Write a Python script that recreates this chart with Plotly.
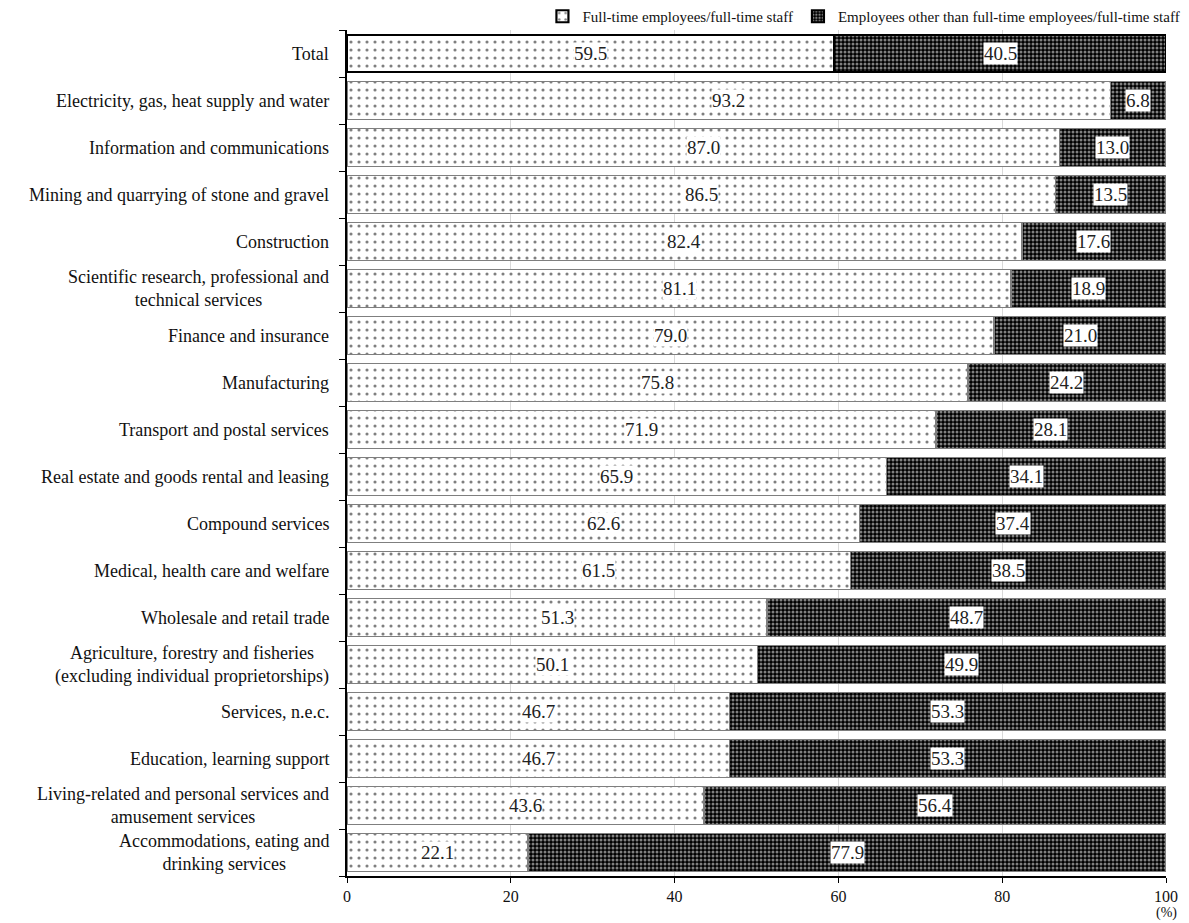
import plotly.graph_objects as go

categories = [
    "Total",
    "Electricity, gas, heat supply and water",
    "Information and communications",
    "Mining and quarrying of stone and gravel",
    "Construction",
    "Scientific research, professional and<br>technical services",
    "Finance and insurance",
    "Manufacturing",
    "Transport and postal services",
    "Real estate and goods rental and leasing",
    "Compound services",
    "Medical, health care and welfare",
    "Wholesale and retail trade",
    "Agriculture, forestry and fisheries<br>(excluding individual proprietorships)",
    "Services, n.e.c.",
    "Education, learning support",
    "Living-related and personal services and<br>amusement services",
    "Accommodations, eating and<br>drinking services",
]
full_time = [59.5, 93.2, 87.0, 86.5, 82.4, 81.1, 79.0, 75.8, 71.9, 65.9,
             62.6, 61.5, 51.3, 50.1, 46.7, 46.7, 43.6, 22.1]
other = [40.5, 6.8, 13.0, 13.5, 17.6, 18.9, 21.0, 24.2, 28.1, 34.1,
         37.4, 38.5, 48.7, 49.9, 53.3, 53.3, 56.4, 77.9]
series_names = ["Full-time employees/full-time staff",
                "Employees other than full-time employees/full-time staff"]
x_ticks = [0, 20, 40, 60, 80, 100]

FONT = "Liberation Serif, Times New Roman, serif"
ypos = list(range(len(categories)))

line_colors = ["#000000"] + ["#7f7f7f"] * (len(categories) - 1)
line_widths = [2.2] + [1.5] * (len(categories) - 1)

fig = go.Figure()
fig.add_trace(go.Bar(
    y=ypos, x=full_time, orientation="h", name=series_names[0], width=0.8,
    marker=dict(color="white",
                line=dict(color=line_colors, width=line_widths),
                pattern=dict(shape=".", fgcolor="black", bgcolor="white",
                             size=8, solidity=0.12)),
))
fig.add_trace(go.Bar(
    y=ypos, x=other, orientation="h", name=series_names[1], width=0.8,
    marker=dict(color="black",
                line=dict(color=line_colors, width=line_widths),
                pattern=dict(shape=".", fgcolor="white", bgcolor="black",
                             size=4, solidity=0.45)),
))

annotations = []
# value labels centred in each segment
for i, (a, b) in enumerate(zip(full_time, other)):
    annotations.append(dict(x=a / 2, y=i, xref="x", yref="y", text=f"{a:.1f}",
                            showarrow=False, bgcolor="white", borderpad=0,
                            font=dict(family=FONT, size=19, color="#222")))
    annotations.append(dict(x=a + b / 2, y=i, xref="x", yref="y", text=f"{b:.1f}",
                            showarrow=False, bgcolor="white", borderpad=0,
                            font=dict(family=FONT, size=19, color="#222")))
# category labels, lines centred within each label block
for i, c in enumerate(categories):
    annotations.append(dict(x=0, y=i, xref="paper", yref="y", text=c,
                            xanchor="right", align="center", xshift=-16,
                            showarrow=False,
                            font=dict(family=FONT, size=18, color="#111")))
annotations.append(dict(x=100, y=0, xref="x", yref="paper", text="(%)",
                        yanchor="top", yshift=-27, showarrow=False,
                        font=dict(family=FONT, size=14, color="#111")))

fig.update_layout(
    barmode="stack",
    width=1189, height=923,
    margin=dict(l=347, r=23, t=30, b=47, autoexpand=False),
    plot_bgcolor="white", paper_bgcolor="white",
    font=dict(family=FONT, size=15, color="#111"),
    bargap=0.2,
    legend=dict(orientation="h", traceorder="normal",
                x=0.997, xanchor="right", y=1.0, yanchor="top",
                xref="container", yref="container",
                font=dict(family=FONT, size=15, color="#111"),
                itemwidth=30, tracegroupgap=0, bgcolor="rgba(0,0,0,0)"),
    annotations=annotations,
)
fig.update_xaxes(range=[0, 100], tickvals=x_ticks, ticktext=[str(t) for t in x_ticks],
                 showgrid=True, gridcolor="#d9d9d9", gridwidth=1,
                 showline=True, linecolor="black", linewidth=1.5,
                 ticks="outside", ticklen=5, tickcolor="black",
                 tickfont=dict(family=FONT, size=16), zeroline=False)
fig.update_yaxes(range=[len(categories) - 0.5, -0.5], tickvals=[i + 0.5 for i in range(-1, len(categories))],
                 showticklabels=False, ticks="outside", ticklen=6, tickcolor="black",
                 showline=True, linecolor="black", linewidth=1.5, showgrid=False,
                 zeroline=False)

fig.write_html("out.html")
